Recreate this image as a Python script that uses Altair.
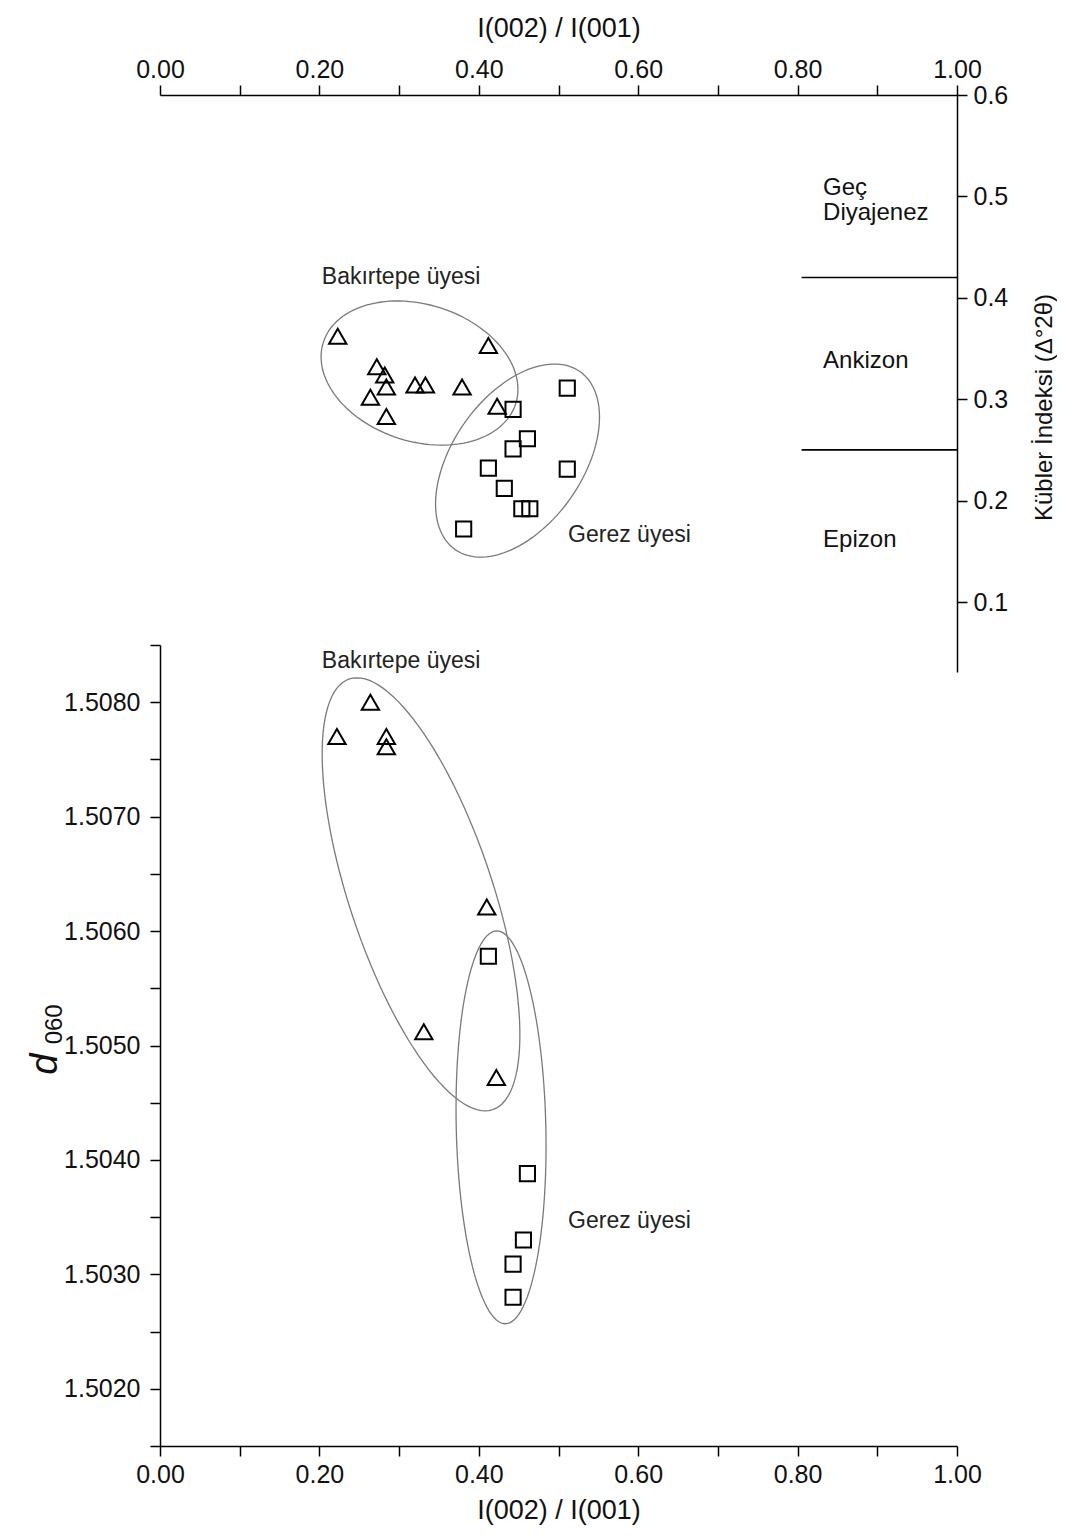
import math
import altair as alt
import pandas as pd

# ---------------- data ----------------
# upper panel: I(002)/I(001) vs Kübler index
TOP_TRI_X = [0.223, 0.412, 0.272, 0.282, 0.284, 0.320, 0.333, 0.379, 0.264, 0.284, 0.423]
TOP_TRI_Y = [0.362, 0.353, 0.332, 0.324, 0.312, 0.314, 0.314, 0.312, 0.302, 0.283, 0.293]
TOP_SQ_X = [0.511, 0.443, 0.461, 0.443, 0.412, 0.511, 0.432, 0.454, 0.464, 0.381]
TOP_SQ_Y = [0.311, 0.290, 0.261, 0.251, 0.232, 0.231, 0.212, 0.192, 0.192, 0.172]

# lower panel: I(002)/I(001) vs d060
BOT_TRI_X = [0.264, 0.222, 0.284, 0.284, 0.410, 0.331, 0.422]
BOT_TRI_Y = [1.50800, 1.50770, 1.50770, 1.50761, 1.50621, 1.50512, 1.50472]
BOT_SQ_X = [0.412, 0.461, 0.456, 0.443, 0.443]
BOT_SQ_Y = [1.50578, 1.50388, 1.50330, 1.50309, 1.50280]

# metamorphic zone boundaries (Kübler index) and labels
ZONE_BOUNDS = [0.42, 0.25]
ZONE_X_START = 0.805
ZONE_LABELS = ["Geç", "Diyajenez", "Ankizon", "Epizon"]
ZONE_LABEL_Y = [0.508, 0.484, 0.338, 0.161]
ZONE_LABEL_X = 0.832

# group labels
GROUP_LABELS = ["Bakırtepe üyesi", "Gerez üyesi"]
TOP_GROUP_X = [0.203, 0.512]
TOP_GROUP_Y = [0.4205, 0.166]
BOT_GROUP_X = [0.203, 0.512]
BOT_GROUP_Y = [1.50836, 1.50347]

# enclosing ellipses: centre + two conjugate semi-diameters (data units)
ELL_NAME = ["top_bak", "top_ger", "bot_bak", "bot_ger"]
ELL_CX = [0.3256, 0.4486, 0.3275, 0.4279]
ELL_CY = [0.3258, 0.2395, 1.506321, 1.504285]
ELL_UX = [0.1207, 0.0782, 0.08989, 0.005595]
ELL_UY = [-0.0303, 0.0878, -0.001882, -0.0017165]
ELL_VX = [-0.0261, 0.0668, -0.08548, -0.05620]
ELL_VY = [-0.0643, -0.0368, -0.000198, -0.00000888]

# axis ticks
X_TICKS = [round(i * 0.1, 2) for i in range(11)]
KI_TICKS = [0.1, 0.2, 0.3, 0.4, 0.5, 0.6]
D_TICKS = [round(1.5015 + i * 0.0005, 4) for i in range(15)]

# ---------------- build tables ----------------
top_tri = pd.DataFrame({"x": TOP_TRI_X, "y": TOP_TRI_Y})
top_sq = pd.DataFrame({"x": TOP_SQ_X, "y": TOP_SQ_Y})
bot_tri = pd.DataFrame({"x": BOT_TRI_X, "y": BOT_TRI_Y})
bot_sq = pd.DataFrame({"x": BOT_SQ_X, "y": BOT_SQ_Y})

ell_rows = []
for i, name in enumerate(ELL_NAME):
    for k in range(0, 361, 3):
        t = math.radians(k)
        ell_rows.append({
            "name": name, "k": k,
            "x": ELL_CX[i] + ELL_UX[i] * math.cos(t) + ELL_VX[i] * math.sin(t),
            "y": ELL_CY[i] + ELL_UY[i] * math.cos(t) + ELL_VY[i] * math.sin(t),
        })
ell = pd.DataFrame(ell_rows)
top_ell = ell[ell["name"].str.startswith("top")]
bot_ell = ell[ell["name"].str.startswith("bot")]

zones = pd.DataFrame({"x": [ZONE_X_START] * 2, "x2": [1.0] * 2, "y": ZONE_BOUNDS})
zone_lbl = pd.DataFrame({"x": [ZONE_LABEL_X] * 4, "y": ZONE_LABEL_Y, "t": ZONE_LABELS})
top_grp = pd.DataFrame({"x": TOP_GROUP_X, "y": TOP_GROUP_Y, "t": GROUP_LABELS})
bot_grp = pd.DataFrame({"x": BOT_GROUP_X, "y": BOT_GROUP_Y, "t": GROUP_LABELS})
d_main_df = pd.DataFrame({"x": [-0.1292], "y": [1.504744], "t": ["d"]})
d_sub_df = pd.DataFrame({"x": [-0.1230], "y": [1.505010], "t": ["060"]})

# ---------------- styles ----------------
SANS = "Liberation Sans, Arial, Helvetica, sans-serif"
W, H = 797, 1351


def xs():
    return alt.Scale(domain=[0, 1], nice=False, zero=False)


def ys_top():
    return alt.Scale(domain=[0.031, 0.6], range=[577, 0], nice=False, zero=False)


def ys_bot():
    return alt.Scale(domain=[1.5015, 1.5085], range=[H, 550], nice=False, zero=False)


X_LABEL_EXPR = "round(datum.value*10) % 2 == 0 ? format(datum.value, '.2f') : ''"
D_LABEL_EXPR = "round(datum.value*2000) % 2 == 0 ? format(datum.value, '.4f') : ''"

common_axis = dict(grid=False, domainColor="black", tickColor="black", domainWidth=1.5,
                   tickWidth=1.5, tickSize=10, labelColor="#111", titleColor="#111",
                   titleFontWeight="normal", labelFont=SANS, titleFont=SANS,
                   labelFlush=False, labelOverlap=False)

ax_top_x = alt.Axis(orient="top", values=X_TICKS, labelExpr=X_LABEL_EXPR, title="I(002) / I(001)",
                    labelFontSize=25, titleFontSize=27, labelPadding=3, titlePadding=15,
                    **common_axis)
ax_ki = alt.Axis(orient="right", values=KI_TICKS, format=".1f", title="Kübler İndeksi (Δ°2θ)",
                 labelFontSize=25, titleFontSize=24, labelPadding=6, titlePadding=25,
                 titleAngle=270, titleBaseline="top", titleY=312, **common_axis)
ax_bot_x = alt.Axis(orient="bottom", values=X_TICKS, labelExpr=X_LABEL_EXPR, title="I(002) / I(001)",
                    labelFontSize=25, titleFontSize=27, labelPadding=6, titlePadding=10,
                    **common_axis)
ax_d = alt.Axis(orient="left", values=D_TICKS, labelExpr=D_LABEL_EXPR, title="",
                labelFontSize=25, labelPadding=10, **common_axis)

NOAX = None


def enc(scale_x, scale_y, ax_x=NOAX, ax_y=NOAX):
    return dict(x=alt.X("x:Q", scale=scale_x, axis=ax_x), y=alt.Y("y:Q", scale=scale_y, axis=ax_y))


layers = []
# ---------------- upper panel ----------------
layers.append(alt.Chart(top_ell).mark_line(color="#7a7a7a", strokeWidth=1.3).encode(
    detail="name:N", order="k:Q", **enc(xs(), ys_top(), ax_top_x, ax_ki)))
layers.append(alt.Chart(zones).mark_rule(color="black", strokeWidth=1.6).encode(
    x2="x2:Q", **enc(xs(), ys_top())))
layers.append(alt.Chart(top_tri).mark_point(shape="triangle-up", filled=False, size=300,
                                            color="black", strokeWidth=2, opacity=1).encode(
    **enc(xs(), ys_top())))
layers.append(alt.Chart(top_sq).mark_point(shape="square", filled=False, size=230,
                                           color="black", strokeWidth=2, opacity=1).encode(
    **enc(xs(), ys_top())))
layers.append(alt.Chart(zone_lbl).mark_text(align="left", baseline="middle", font=SANS,
                                            fontSize=24, color="#111").encode(
    text="t:N", **enc(xs(), ys_top())))
layers.append(alt.Chart(top_grp).mark_text(align="left", baseline="middle", font=SANS,
                                           fontSize=23, color="#222").encode(
    text="t:N", **enc(xs(), ys_top())))

# ---------------- lower panel ----------------
layers.append(alt.Chart(bot_ell).mark_line(color="#7a7a7a", strokeWidth=1.3).encode(
    detail="name:N", order="k:Q", **enc(xs(), ys_bot(), ax_bot_x, ax_d)))
layers.append(alt.Chart(bot_tri).mark_point(shape="triangle-up", filled=False, size=300,
                                            color="black", strokeWidth=2, opacity=1).encode(
    **enc(xs(), ys_bot())))
layers.append(alt.Chart(bot_sq).mark_point(shape="square", filled=False, size=230,
                                           color="black", strokeWidth=2, opacity=1).encode(
    **enc(xs(), ys_bot())))
layers.append(alt.Chart(bot_grp).mark_text(align="left", baseline="middle", font=SANS,
                                           fontSize=23, color="#222").encode(
    text="t:N", **enc(xs(), ys_bot())))
layers.append(alt.Chart(d_main_df).mark_text(
    align="left", baseline="alphabetic", angle=270, font=SANS, fontSize=38,
    fontStyle="italic", color="#111").encode(text="t:N", **enc(xs(), ys_bot())))
layers.append(alt.Chart(d_sub_df).mark_text(
    align="left", baseline="alphabetic", angle=270, font=SANS, fontSize=24,
    color="#111").encode(text="t:N", **enc(xs(), ys_bot())))

chart = alt.layer(*layers).resolve_scale(
    x="independent", y="independent"
).resolve_axis(
    x="independent", y="independent"
).properties(
    width=W, height=H,
    autosize=alt.AutoSizeParams(type="none"),
    padding={"left": 152, "top": 87, "right": 100, "bottom": 90},
    background="white",
).configure_view(stroke=None)

chart.save("out.html", embed_options={"renderer": "svg", "actions": False})
